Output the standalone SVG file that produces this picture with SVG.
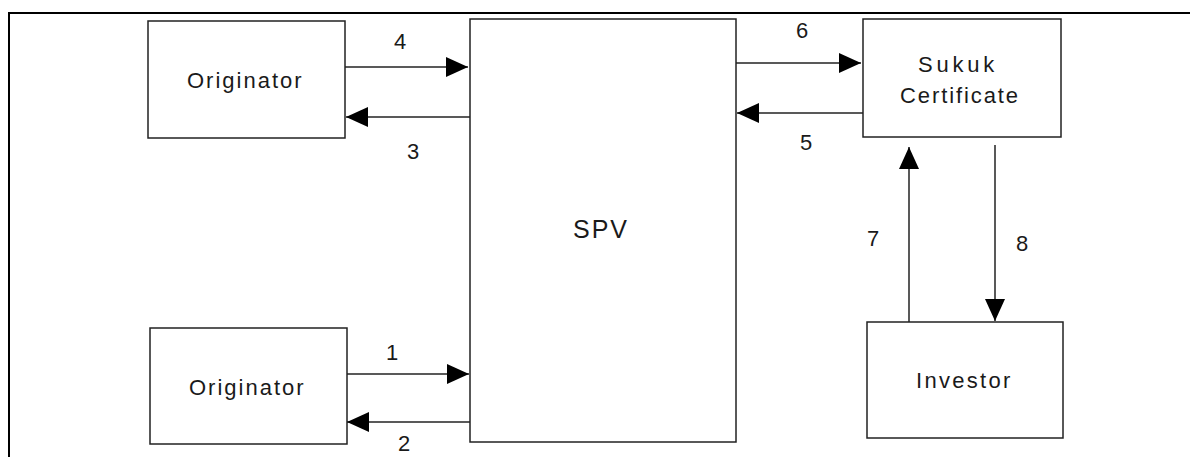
<svg xmlns="http://www.w3.org/2000/svg" width="1190" height="457" viewBox="0 0 1190 457">
<style>
.box{fill:#fff;stroke:#222;stroke-width:1.5}
.lbl{font-family:"Liberation Sans",Arial,sans-serif;font-size:22px;fill:#1a1a1a;letter-spacing:2px}
.num{font-family:"Liberation Sans",Arial,sans-serif;font-size:22px;fill:#1a1a1a}
.con{stroke:#222;stroke-width:1.5;fill:none;marker-end:url(#ah)}
</style>
<defs>
<marker id="ah" markerUnits="userSpaceOnUse" markerWidth="22" markerHeight="20" refX="22" refY="10" orient="auto">
<path d="M0,0 L22,10 L0,20 Z" fill="#000"/>
</marker>
</defs>
<rect width="1190" height="457" fill="#fff"/>
<g id="frame">
<line x1="8" y1="13" x2="1190" y2="13" stroke="#000" stroke-width="2"/>
<line x1="9" y1="12" x2="9" y2="457" stroke="#000" stroke-width="2"/>
</g>
<g id="originator-top">
<rect class="box" x="148" y="21" width="197" height="117"/>
<text class="lbl" x="187" y="88">Originator</text>
</g>
<g id="originator-bottom">
<rect class="box" x="150" y="328" width="197" height="116"/>
<text class="lbl" x="189" y="395">Originator</text>
</g>
<g id="spv">
<rect class="box" x="470" y="19" width="266" height="423"/>
<text class="lbl" x="573" y="238" style="font-size:25px">SPV</text>
</g>
<g id="sukuk">
<rect class="box" x="863" y="19" width="198" height="118"/>
<text class="lbl" x="918" y="72" style="letter-spacing:3.8px">Sukuk</text>
<text class="lbl" x="900" y="103" style="letter-spacing:1.9px">Certificate</text>
</g>
<g id="investor">
<rect class="box" x="867" y="322" width="196" height="116"/>
<text class="lbl" x="916" y="388" style="letter-spacing:2.3px">Investor</text>
</g>
<g id="connectors">
<line class="con" x1="345" y1="67" x2="468" y2="67"/>
<line class="con" x1="470" y1="117" x2="346" y2="117"/>
<line class="con" x1="736" y1="63" x2="861" y2="63"/>
<line class="con" x1="863" y1="113" x2="737" y2="113"/>
<line class="con" x1="909" y1="322" x2="909" y2="147"/>
<line class="con" x1="995" y1="145" x2="995" y2="321"/>
<line class="con" x1="347" y1="374" x2="469" y2="374"/>
<line class="con" x1="470" y1="422" x2="347" y2="422"/>
</g>
<g id="labels">
<text class="num" x="394" y="49">4</text>
<text class="num" x="407" y="159">3</text>
<text class="num" x="796" y="38">6</text>
<text class="num" x="800" y="150">5</text>
<text class="num" x="867" y="246">7</text>
<text class="num" x="1016" y="251">8</text>
<text class="num" x="386" y="360">1</text>
<text class="num" x="398" y="451">2</text>
</g>
</svg>
